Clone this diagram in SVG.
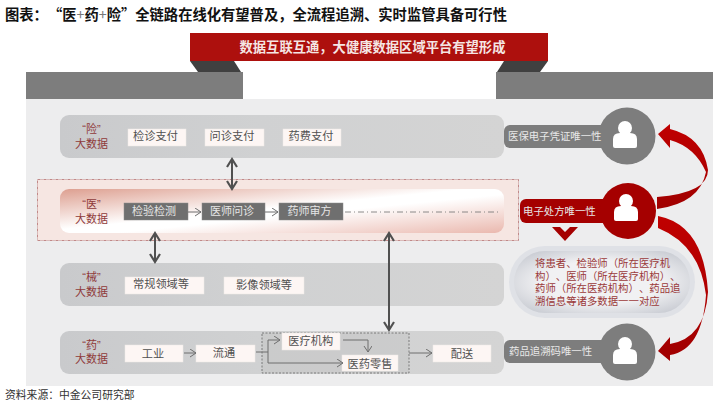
<svg xmlns="http://www.w3.org/2000/svg" width="720" height="405" viewBox="0 0 720 405">
<defs>
<linearGradient id="gRow" x1="0" y1="0" x2="1" y2="0"><stop offset="0" stop-color="#c9cacc"/><stop offset="0.45" stop-color="#d0d1d2"/><stop offset="1" stop-color="#d4d4d4"/></linearGradient>
<linearGradient id="gYi" x1="0" y1="0" x2="1" y2="1"><stop offset="0" stop-color="#dd9f90"/><stop offset="0.46" stop-color="#fff"/><stop offset="0.56" stop-color="#fff"/><stop offset="1" stop-color="#eab8ae"/></linearGradient>
<radialGradient id="gPill" cx="0.5" cy="0.5" r="0.62"><stop offset="0.55" stop-color="#f1f1f3"/><stop offset="1" stop-color="#c9ccd3"/></radialGradient>
<linearGradient id="gArrow" x1="0" y1="0" x2="0" y2="1"><stop offset="0" stop-color="#c00000"/><stop offset="1" stop-color="#a00000"/></linearGradient>
<marker id="a" markerWidth="10" markerHeight="10" refX="7" refY="4" orient="auto" markerUnits="userSpaceOnUse"><path d="M1 0L7 4L1 8" fill="none" stroke="#6e6e6e" stroke-width="1"/></marker>
<marker id="b" markerWidth="14" markerHeight="12" refX="10" refY="6" orient="auto-start-reverse" markerUnits="userSpaceOnUse"><path d="M2 1L10 6L2 11" fill="none" stroke="#505050" stroke-width="2.2"/></marker>
<g id="person"><circle cx="0" cy="-8" r="7" fill="#fff"/><path d="M-12 10V3Q-12 -3 -5 -3H5Q12 -3 12 3V10Q12 12 10 12H-10Q-12 12 -12 10Z" fill="#fff"/></g>
</defs>
<style>
text{font-family:"Noto Sans CJK SC","Liberation Sans",sans-serif;text-spacing-trim:space-all}
.b{fill:#fdf6f4;stroke:#efe9e6;stroke-width:.5}
.t{font-size:11.2px;fill:#505050;text-anchor:middle}
.d{fill:#6f6f6f;stroke:#8a8a8a;stroke-width:.5}
.w{font-size:11px;fill:#e6e6e6;text-anchor:middle}
.n{font-size:10.4px;fill:#e8e8e8}
.r{font-size:11px;fill:#8f3a3a;text-anchor:middle}
.q{font-family:"Liberation Sans","Noto Sans CJK SC",sans-serif}
.l{fill:none;stroke:#6e6e6e;stroke-width:1}
.s{fill:none;stroke:#505050;stroke-width:2}
</style>
<rect width="720" height="405" fill="#fff"/>
<text x="5" y="20" font-size="14.3" font-weight="700" fill="#111">图表：“医<tspan fill="#777" font-weight="400">+</tspan>药<tspan fill="#777" font-weight="400">+</tspan>险”全链路在线化有望普及，全流程追溯、实时监管具备可行性</text>
<g id="background">
<rect x="26" y="99" width="687" height="287" fill="#ededee"/>
<rect x="26" y="72" width="217" height="27" fill="#7d7d7d"/>
<rect x="496" y="72" width="217" height="27" fill="#7d7d7d"/>
<path d="M190 61L198 72H241L234 61Z" fill="#404040"/>
<path d="M504 61L497 72H540L548 61Z" fill="#404040"/>
</g>
<g id="banner"><rect x="190" y="33" width="358" height="28" fill="#ad100d"/><text x="372.500" y="51.500" font-size="13.3" font-weight="700" fill="#f5e6e4" text-anchor="middle">数据互联互通，大健康数据区域平台有望形成</text></g>
<rect id="yi-frame" x="37.500" y="179.500" width="481" height="61" fill="#f6e6e2" stroke="#b5706f" stroke-width=".8" stroke-dasharray="3 1 1 1"/>
<g id="row-xian"><rect x="60" y="115" width="444" height="43" rx="9" fill="url(#gRow)"/><text class="r q" x="91.500" y="133">“险”</text><text class="r" x="91.500" y="148">大数据</text>
<rect class="b" x="128" y="129" width="58" height="17"/><text class="t" x="155.500" y="140">检诊支付</text>
<rect class="b" x="205" y="129" width="59" height="17"/><text class="t" x="232" y="140">问诊支付</text>
<rect class="b" x="283" y="129" width="58" height="17"/><text class="t" x="311" y="140">药费支付</text></g>
<g id="row-yi"><rect x="60" y="189" width="444" height="44" rx="9" fill="url(#gYi)"/><text class="r q" x="91.500" y="208">“医”</text><text class="r" x="91.500" y="223">大数据</text>
<rect class="d" x="124" y="203" width="64" height="17"/><text class="w" x="154" y="215">检验检测</text>
<rect class="d" x="202" y="203" width="63" height="17"/><text class="w" x="232" y="215">医师问诊</text>
<rect class="d" x="279" y="203" width="64" height="17"/><text class="w" x="309.500" y="215">药师审方</text></g>
<g id="row-xie"><rect x="60" y="263" width="444" height="43" rx="9" fill="url(#gRow)"/><text class="r q" x="91.500" y="281">“械”</text><text class="r" x="91.500" y="296">大数据</text>
<rect class="b" x="125" y="277" width="79" height="17"/><text class="t" x="161" y="288">常规领域等</text>
<rect class="b" x="224" y="277" width="80" height="17"/><text class="t" x="264" y="289">影像领域等</text></g>
<g id="row-yao"><rect x="60" y="331" width="444" height="43" rx="9" fill="url(#gRow)"/><text class="r q" x="91.500" y="349">“药”</text><text class="r" x="91.500" y="363">大数据</text>
<rect x="262" y="333" width="147" height="40" fill="#c0c0c0" fill-opacity=".35" stroke="#666" stroke-width=".8" stroke-dasharray="2 1.500"/>
<rect class="b" x="125" y="345" width="58" height="17"/><text class="t" x="153" y="358">工业</text>
<rect class="b" x="196" y="345" width="59" height="17"/><text class="t" x="224" y="357">流通</text>
<rect class="b" x="282" y="333" width="58" height="17"/><text class="t" x="310.700" y="345">医疗机构</text>
<rect class="b" x="342" y="355" width="56" height="16"/><text class="t" x="370" y="368">医药零售</text>
<rect class="b" x="433" y="345" width="58" height="17"/><text class="t" x="462" y="358">配送</text></g>
<g id="connectors">
<path class="l" d="M188 212H201" marker-end="url(#a)"/>
<path class="l" d="M265 212H278" marker-end="url(#a)"/>
<path d="M345 212H500" fill="none" stroke="#6e6e6e" stroke-width=".8" stroke-dasharray="6 3 1 3"/>
<path class="l" d="M184 353H196" marker-end="url(#a)"/>
<path class="l" d="M256 352H268M268 352V340H280" marker-end="url(#a)"/>
<path class="l" d="M268 352V363H343" marker-end="url(#a)"/>
<path class="l" d="M343 340H368V352" marker-end="url(#a)"/>
<path class="l" d="M409 353H432" marker-end="url(#a)"/>
<path class="s" d="M232 159V189" marker-start="url(#b)" marker-end="url(#b)"/>
<path class="s" d="M155 233V262" marker-start="url(#b)" marker-end="url(#b)"/>
<path class="s" d="M389 233V330" marker-start="url(#b)" marker-end="url(#b)"/>
<path d="M658 134L670 124V129Q703 137 708 170Q708 193 657 197V209Q700 203 706 172Q695 147 670 140V148Z" fill="url(#gArrow)"/>
<path d="M658 216Q704 225 708 292Q705 338 670 344V337L658 351L670 361V355Q702 350 706 295Q700 245 658 228Z" fill="url(#gArrow)"/>
</g>
<g id="node-insurance"><rect x="504" y="125" width="125" height="23" rx="6" fill="#7d7d7d"/><circle cx="627" cy="136" r="28.500" fill="#7d7d7d"/><use href="#person" x="625" y="136"/><text class="n" x="508" y="140">医保电子凭证唯一性</text></g>
<g id="node-rx"><rect x="520" y="199" width="110" height="24" rx="6" fill="#a50000"/><circle cx="628" cy="211" r="28" fill="#a50000"/><use href="#person" x="626" y="209"/><text class="n" x="523" y="215" fill="#f2dede">电子处方唯一性</text></g>
<path id="chevron" d="M552 227H560L565 232L570 227H578L565 241Z" fill="#a50000"/>
<g id="node-pill"><rect x="509" y="246" width="186" height="72" rx="36" fill="#dfe1e6"/><rect x="514" y="251" width="176" height="62" rx="31" fill="url(#gPill)"/>
<text class="q" font-size="10.4" fill="#9b3a3a"><tspan x="535" y="267">将患者、检验师（所在医疗机</tspan><tspan x="535" y="279.500">构）、医师（所在医疗机构）、</tspan><tspan x="535" y="292">药师（所在医药机构）、药品追</tspan><tspan x="535" y="304.500">溯信息等诸多数据一一对应</tspan></text></g>
<g id="node-trace"><rect x="504" y="340" width="125" height="23" rx="6" fill="#7d7d7d"/><circle cx="627" cy="352" r="28.500" fill="#7d7d7d"/><use href="#person" x="625" y="352"/><text class="n" x="509" y="355" font-size="10.5">药品追溯码唯一性</text></g>
<text x="5" y="399" font-size="10.8" fill="#333">资料来源：中金公司研究部</text>
</svg>
